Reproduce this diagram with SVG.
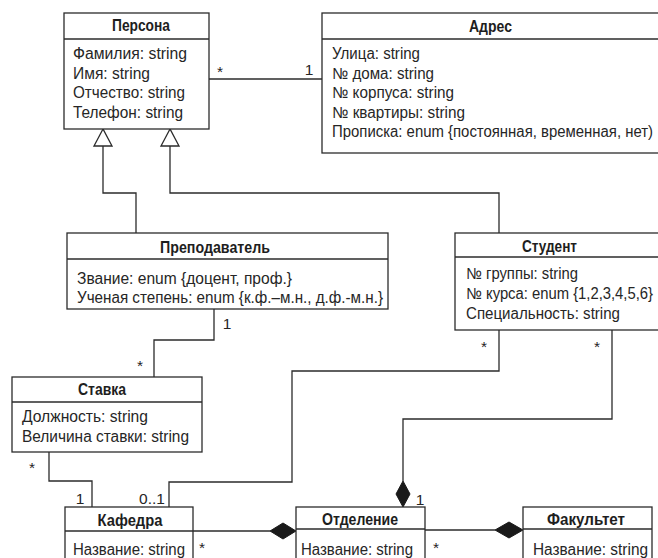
<svg xmlns="http://www.w3.org/2000/svg" width="658" height="558" viewBox="0 0 658 558">
<style>
.box{fill:#fff;stroke:#2b2b2b;stroke-width:1.3}
.sep{stroke:#2b2b2b;stroke-width:1.3}
.t{font-family:"Liberation Sans",Arial,sans-serif;font-size:16px;fill:#262626}
.h{font-family:"Liberation Sans",Arial,sans-serif;font-size:16px;font-weight:bold;fill:#1e1e1e;text-anchor:middle}
.ln{fill:none;stroke:#2b2b2b;stroke-width:1.3}
.gen{fill:#fff;stroke:#2b2b2b;stroke-width:1.3}
.dia{fill:#1a1a1a;stroke:#1a1a1a;stroke-width:1}
.m{font-family:"Liberation Sans",Arial,sans-serif;font-size:15.5px;fill:#262626;text-anchor:middle}
</style>
<rect width="658" height="558" fill="#fff"/>

<g id="connectors">
  <path class="ln" d="M209,79 H322"/>
  <path class="ln" d="M103,146 V193 H136 V233"/>
  <path class="ln" d="M170,146 V193 H499 V233"/>
  <path class="ln" d="M214,309 V340 H154 V377"/>
  <path class="ln" d="M49,452 V481 H92 V507"/>
  <path class="ln" d="M499,330 V371 H292 V482 H169 V507"/>
  <path class="ln" d="M612,330 V419 H403 V481"/>
  <path class="ln" d="M193,531 H270"/>
  <path class="ln" d="M425,530 H495"/>
  <polygon class="gen" points="103,129 94,146 112,146"/>
  <polygon class="gen" points="170,129 161,146 179,146"/>
  <polygon class="dia" points="296,531 283,523 270,531 283,539"/>
  <polygon class="dia" points="523,530 509,522 495,530 509,538"/>
  <polygon class="dia" points="403,507 396,494 403,481 410,494"/>
  <text class="m" x="220" y="77">*</text>
  <text class="m" x="309" y="75">1</text>
  <text class="m" x="227" y="329">1</text>
  <text class="m" x="140" y="371">*</text>
  <text class="m" x="32" y="473">*</text>
  <text class="m" x="80" y="504">1</text>
  <text class="m" x="152" y="504">0..1</text>
  <text class="m" x="202" y="553">*</text>
  <text class="m" x="420" y="505">1</text>
  <text class="m" x="436" y="553">*</text>
  <text class="m" x="484" y="352">*</text>
  <text class="m" x="597" y="352">*</text>
</g>

<g id="persona">
  <rect class="box" x="64" y="13" width="145" height="116"/>
  <line class="sep" x1="64" y1="39" x2="209" y2="39"/>
  <text class="h" x="141" y="31" textLength="58" lengthAdjust="spacingAndGlyphs">Персона</text>
  <text class="t" x="73" y="59" textLength="114" lengthAdjust="spacingAndGlyphs">Фамилия: string</text>
  <text class="t" x="73" y="78.5" textLength="77" lengthAdjust="spacingAndGlyphs">Имя: string</text>
  <text class="t" x="73" y="98" textLength="112" lengthAdjust="spacingAndGlyphs">Отчество: string</text>
  <text class="t" x="73" y="117.5" textLength="110" lengthAdjust="spacingAndGlyphs">Телефон: string</text>
</g>

<g id="adres">
  <rect class="box" x="322" y="13" width="345" height="140"/>
  <line class="sep" x1="322" y1="39" x2="667" y2="39"/>
  <text class="h" x="490.5" y="32" textLength="43" lengthAdjust="spacingAndGlyphs">Адрес</text>
  <text class="t" x="332" y="59" textLength="88" lengthAdjust="spacingAndGlyphs">Улица: string</text>
  <text class="t" x="332" y="78.5" textLength="102" lengthAdjust="spacingAndGlyphs">№ дома: string</text>
  <text class="t" x="332" y="98" textLength="122" lengthAdjust="spacingAndGlyphs">№ корпуса: string</text>
  <text class="t" x="332" y="117.5" textLength="133" lengthAdjust="spacingAndGlyphs">№ квартиры: string</text>
  <text class="t" x="332" y="137" textLength="321" lengthAdjust="spacingAndGlyphs">Прописка: enum {постоянная, временная, нет)</text>
</g>

<g id="prepodavatel">
  <rect class="box" x="67" y="233" width="321" height="76"/>
  <line class="sep" x1="67" y1="259" x2="388" y2="259"/>
  <text class="h" x="215" y="253" textLength="110" lengthAdjust="spacingAndGlyphs">Преподаватель</text>
  <text class="t" x="77" y="284" textLength="215" lengthAdjust="spacingAndGlyphs">Звание: enum {доцент, проф.}</text>
  <text class="t" x="77" y="303" textLength="306" lengthAdjust="spacingAndGlyphs">Ученая степень: enum {к.ф.–м.н., д.ф.-м.н.}</text>
</g>

<g id="student">
  <rect class="box" x="455" y="233" width="212" height="97"/>
  <line class="sep" x1="455" y1="257" x2="667" y2="257"/>
  <text class="h" x="549.5" y="252" textLength="55" lengthAdjust="spacingAndGlyphs">Студент</text>
  <text class="t" x="466" y="279" textLength="112" lengthAdjust="spacingAndGlyphs">№ группы: string</text>
  <text class="t" x="466" y="299" textLength="187" lengthAdjust="spacingAndGlyphs">№ курса: enum {1,2,3,4,5,6}</text>
  <text class="t" x="466" y="319" textLength="154" lengthAdjust="spacingAndGlyphs">Специальность: string</text>
</g>

<g id="stavka">
  <rect class="box" x="12" y="377" width="190" height="75"/>
  <line class="sep" x1="12" y1="402" x2="202" y2="402"/>
  <text class="h" x="102" y="395" textLength="48" lengthAdjust="spacingAndGlyphs">Ставка</text>
  <text class="t" x="22" y="422" textLength="126" lengthAdjust="spacingAndGlyphs">Должность: string</text>
  <text class="t" x="22" y="442" textLength="167" lengthAdjust="spacingAndGlyphs">Величина ставки: string</text>
</g>

<g id="kafedra">
  <rect class="box" x="65" y="507" width="128" height="70"/>
  <line class="sep" x1="65" y1="531" x2="193" y2="531"/>
  <text class="h" x="130" y="526" textLength="65" lengthAdjust="spacingAndGlyphs">Кафедра</text>
  <text class="t" x="73" y="555" textLength="112" lengthAdjust="spacingAndGlyphs">Название: string</text>
</g>

<g id="otdelenie">
  <rect class="box" x="296" y="507" width="129" height="70"/>
  <line class="sep" x1="296" y1="529" x2="425" y2="529"/>
  <text class="h" x="360" y="525" textLength="76" lengthAdjust="spacingAndGlyphs">Отделение</text>
  <text class="t" x="301" y="555" textLength="112" lengthAdjust="spacingAndGlyphs">Название: string</text>
</g>

<g id="fakultet">
  <rect class="box" x="523" y="507" width="129" height="70"/>
  <line class="sep" x1="523" y1="529" x2="652" y2="529"/>
  <text class="h" x="586" y="525" textLength="78" lengthAdjust="spacingAndGlyphs">Факультет</text>
  <text class="t" x="533" y="555" textLength="115" lengthAdjust="spacingAndGlyphs">Название: string</text>
</g>
</svg>
